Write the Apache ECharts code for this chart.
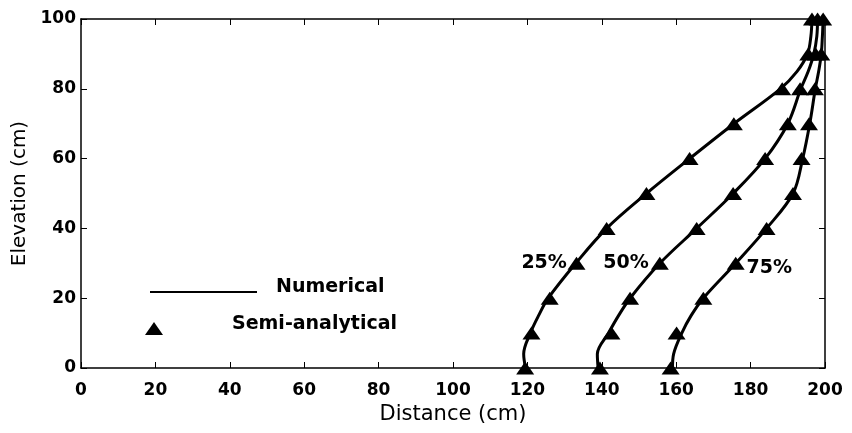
<!DOCTYPE html>
<html>
<head>
<meta charset="utf-8">
<script src="https://cdn.jsdelivr.net/npm/echarts@6/dist/echarts.min.js"></script>
<style>
  html, body { margin: 0; padding: 0; background: #fff; }
  #main { width: 852px; height: 433px; }
</style>
</head>
<body>
<div id="main"></div>
<script>
// elevations of the semi-analytical points (cm)
const elevSemi = [0, 10, 20, 30, 40, 50, 60, 70, 80, 90, 100]
const semi25 = [119.4, 121.1, 126.0, 133.2, 141.3, 152.0, 163.6, 175.5, 188.5, 195.5, 196.5]
const semi50 = [139.5, 142.6, 147.6, 155.6, 165.5, 175.3, 183.9, 190.0, 193.3, 197.5, 198.0]
const semi75 = [158.5, 160.1, 167.3, 176.0, 184.3, 191.4, 193.7, 195.7, 197.3, 199.0, 199.5]

// numerical curves
const elevNum = [0, 4, 10, 15, 20, 30, 40, 50, 60, 70, 80, 85, 90, 95, 100]
const num25 = [119.5, 119.0, 120.8, 123.0, 125.6, 133.0, 141.3, 152.0, 163.6, 175.5, 188.0, 192.5, 195.3, 196.2, 196.5]
const num50 = [139.0, 138.8, 141.8, 144.5, 147.6, 155.6, 165.5, 175.3, 183.9, 190.0, 193.5, 195.5, 197.0, 197.8, 198.0]
const num75 = [159.0, 159.3, 161.5, 164.0, 167.3, 176.0, 184.3, 191.4, 194.0, 195.9, 197.4, 198.3, 199.0, 199.3, 199.5]

const curveNames = ['25%', '50%', '75%']
const labelAt = [[124.5, 30.1], [146.5, 30.0], [185.0, 28.7]]

const xTicks = { min: 0, max: 200, interval: 20 }
const yTicks = { min: 0, max: 100, interval: 20 }

const pair = (xs, ys) => xs.map((x, i) => [x, ys[i]])

const font = 'DejaVu Sans'
const tickLabel = { color: '#000', fontFamily: font, fontWeight: 'bold', fontSize: 17 }
const blackLine = { lineStyle: { color: '#000', width: 1.5 } }

const chart = echarts.init(document.getElementById('main'))

const numSets = [num25, num50, num75]
const semiSets = [semi25, semi50, semi75]

const series = []
numSets.forEach((d, i) => {
    series.push({
        name: 'Numerical',
        type: 'line',
        data: pair(d, elevNum),
        smooth: 0.35,
        symbol: 'none',
        clip: false,
        lineStyle: { color: '#000', width: 3 },
        markPoint: {
            symbol: 'circle',
            symbolSize: 0,
            data: [{ coord: labelAt[i] }],
            label: {
                show: true,
                position: 'inside',
                formatter: curveNames[i],
                color: '#000',
                fontFamily: font,
                fontWeight: 'bold',
                fontSize: 19
            }
        }
    })
})
semiSets.forEach((d) => {
    series.push({
        name: 'Semi-analytical',
        type: 'scatter',
        data: pair(d, elevSemi),
        symbol: 'triangle',
        symbolSize: [18, 13],
        clip: false,
        itemStyle: { color: '#000', opacity: 1 },
        emphasis: { disabled: true },
        z: 5
    })
})

const option = {
    backgroundColor: '#fff',
    animation: false,
    grid: { left: 81, right: 27, top: 19, bottom: 65 },
    xAxis: [
        {
            type: 'value',
            ...xTicks,
            name: 'Distance (cm)',
            nameLocation: 'middle',
            nameGap: 33,
            nameTextStyle: { color: '#000', fontFamily: font, fontSize: 21 },
            axisLine: { show: true, onZero: false, ...blackLine },
            axisTick: { show: true, inside: true, length: 6, lineStyle: { color: '#000' } },
            axisLabel: { ...tickLabel, margin: 14 },
            splitLine: { show: false }
        },
        {
            type: 'value',
            position: 'top',
            ...xTicks,
            axisLine: { show: true, onZero: false, ...blackLine },
            axisTick: { show: true, inside: true, length: 6, lineStyle: { color: '#000' } },
            axisLabel: { show: false },
            splitLine: { show: false }
        }
    ],
    yAxis: [
        {
            type: 'value',
            ...yTicks,
            name: 'Elevation (cm)',
            nameLocation: 'middle',
            nameRotate: 90,
            nameGap: 51,
            nameTextStyle: { color: '#000', fontFamily: font, fontSize: 20 },
            axisLine: { show: true, onZero: false, ...blackLine },
            axisTick: { show: true, inside: true, length: 6, lineStyle: { color: '#000' } },
            axisLabel: { ...tickLabel, margin: 5 },
            splitLine: { show: false }
        },
        {
            type: 'value',
            position: 'right',
            ...yTicks,
            axisLine: { show: true, onZero: false, ...blackLine },
            axisTick: { show: true, inside: true, length: 6, lineStyle: { color: '#000' } },
            axisLabel: { show: false },
            splitLine: { show: false }
        }
    ],
    series: series,
    // legend drawn by hand, like the original figure
    graphic: {
        elements: [
            {
                type: 'line',
                shape: { x1: 150, y1: 292, x2: 257, y2: 292 },
                style: { stroke: '#000', lineWidth: 2 }
            },
            {
                type: 'text',
                style: { x: 276, y: 287, text: 'Numerical', fill: '#000', font: 'bold 19px "DejaVu Sans"', verticalAlign: 'middle' }
            },
            {
                type: 'polygon',
                shape: { points: [[154, 322], [145, 335], [163, 335]] },
                style: { fill: '#000' }
            },
            {
                type: 'text',
                style: { x: 232, y: 324, text: 'Semi-analytical', fill: '#000', font: 'bold 19px "DejaVu Sans"', verticalAlign: 'middle' }
            }
        ]
    }
}

chart.setOption(option)
</script>
</body>
</html>
